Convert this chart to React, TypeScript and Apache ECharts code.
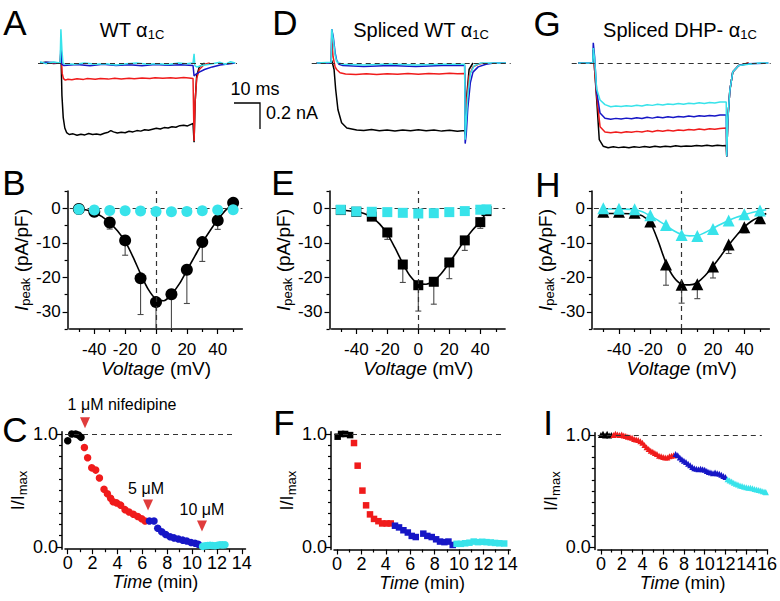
import React, { useEffect, useRef } from 'react';
import * as echarts from 'echarts';

const FONT = '"Liberation Sans", Arial, Helvetica, sans-serif';
const BLACK = '#000000';
const RED = '#f01b1b';
const BLUE = '#1616c6';
const CYAN = '#38e3ea';
const MARK_RED = '#e03c3c';
const DASH = '#333333';
const ERR = '#4a4a4a';

// ---------- Top row: current traces [time (ms), current (nA)] ----------
const traceA_black = [[0.8,0],[3,0.005],[6,-0.004],[8.6,0],[8.8,0.1],[9.2,-0.25],[9.7,-0.42],[10.3,-0.5],[11,-0.535],[12,-0.55],[13.5,-0.545],[15,-0.556],[16.5,-0.548],[18,-0.553],[19.5,-0.542],[21,-0.55],[22.5,-0.546],[24,-0.552],[25.5,-0.54],[27,-0.532],[28,-0.52],[29,-0.53],[30.5,-0.538],[32,-0.532],[33.5,-0.536],[35,-0.525],[36.5,-0.53],[38,-0.52],[39.5,-0.524],[41,-0.513],[42.5,-0.518],[44,-0.51],[45.5,-0.502],[47,-0.508],[48.5,-0.497],[50,-0.5],[51.5,-0.49],[53,-0.494],[54.5,-0.482],[56,-0.478],[57.5,-0.484],[59,-0.47],[59.6,-0.466],[60,-0.61],[60.4,-0.3],[61,-0.1],[62,-0.03],[64,0]];
const traceA_red = [[0.8,0],[8.6,0],[8.8,0.1],[9.3,-0.08],[9.8,-0.12],[10.5,-0.132],[11.5,-0.125],[13,-0.129],[15,-0.121],[17.5,-0.126],[19,-0.12],[22,-0.125],[24,-0.119],[27,-0.124],[29.5,-0.118],[32,-0.123],[35,-0.117],[37,-0.121],[40,-0.116],[43,-0.12],[45,-0.114],[48,-0.118],[51,-0.114],[53,-0.117],[56,-0.112],[58,-0.116],[59.6,-0.12],[60,-0.6],[60.4,-0.3],[61,-0.12],[62,-0.05],[64,-0.01],[66,0]];
const traceA_blue = [[0.8,0],[4,0.005],[8.6,0],[8.8,0.15],[9.2,-0.01],[10,-0.02],[15,-0.012],[20,-0.022],[25,-0.01],[30,-0.02],[35,-0.014],[40,-0.022],[45,-0.012],[50,-0.018],[55,-0.014],[59.6,-0.02],[60,-0.1],[60.5,-0.09],[62,-0.07],[64,-0.05],[67,-0.03],[70,-0.015],[73,-0.008],[75.8,0]];
const traceA_cyan = [[0.8,0.01],[3,-0.005],[6,0.008],[8.5,0],[8.8,0.26],[9.2,0.1],[9.6,0],[10,-0.005],[14,-0.01],[18,0],[22,-0.01],[26,-0.005],[30,-0.015],[34,-0.005],[38,0],[42,-0.01],[46,-0.005],[50,-0.012],[54,0],[57,-0.005],[59.6,0],[60,0.07],[60.3,-0.02],[61,-0.03],[63,-0.02],[66,-0.01],[70,0.005],[72,-0.01],[74,0.01],[75.8,0]];

const traceD_black = [[1.9,0],[7.5,0],[7.7,0.02],[8.6,-0.05],[9.2,-0.2],[10.1,-0.36],[11.5,-0.46],[13.5,-0.5],[17.3,-0.515],[20,-0.52],[23,-0.512],[26,-0.522],[29,-0.515],[32,-0.523],[35,-0.516],[38,-0.521],[41,-0.514],[44,-0.522],[47,-0.516],[50,-0.524],[53,-0.518],[56,-0.525],[58.8,-0.52],[59,-0.55],[59.4,-0.3],[60.5,-0.05],[62,0]];
const traceD_red = [[1.9,0],[7.5,0],[7.7,0.2],[8.2,0.05],[9,-0.03],[9.6,-0.05],[10.9,-0.075],[13,-0.085],[17,-0.088],[21,-0.083],[25,-0.088],[29,-0.082],[33,-0.087],[37,-0.081],[41,-0.086],[45,-0.08],[49,-0.085],[53,-0.079],[56,-0.083],[58.8,-0.08],[59,-0.45],[59.5,-0.3],[60.5,-0.1],[62,-0.03],[64,-0.01],[66,0]];
const traceD_blue = [[1.9,0],[7.5,0],[7.7,0.26],[8.3,0.2],[9,0.08],[9.6,0.02],[10.5,-0.01],[12,-0.02],[20,-0.026],[30,-0.02],[40,-0.026],[50,-0.02],[58.8,-0.02],[59,-0.62],[59.4,-0.55],[60,-0.35],[61,-0.15],[62,-0.07],[64,-0.03],[67,-0.01],[70,0],[74.7,0]];
const traceD_cyan = [[1.9,0],[7.5,0.005],[7.7,0.26],[8.3,0.18],[9,0.06],[9.6,0.01],[10.5,0],[12,-0.01],[20,-0.015],[30,-0.008],[40,-0.015],[50,-0.01],[58.8,-0.01],[59,-0.59],[59.4,-0.45],[60,-0.25],[61,-0.08],[62.5,-0.02],[65,0],[74.7,0]];

const traceG_black = [[2.5,0],[8.1,0],[8.3,0.1],[8.8,-0.05],[9.6,-0.28],[10.6,-0.59],[12.1,-0.64],[14,-0.652],[16,-0.645],[18,-0.651],[20,-0.646],[22,-0.652],[24,-0.644],[26,-0.649],[28,-0.642],[30,-0.648],[32,-0.64],[34,-0.646],[36,-0.641],[38,-0.644],[40,-0.637],[42,-0.643],[44,-0.638],[46,-0.641],[48,-0.634],[50,-0.639],[52,-0.633],[54,-0.638],[56,-0.632],[58,-0.636],[59.4,-0.634],[59.6,-0.72],[60,-0.44],[60.8,-0.21],[61.9,-0.07],[64.2,-0.02],[68,0]];
const traceG_red = [[2.5,0],[8.1,0],[8.3,0.1],[8.8,-0.05],[9.6,-0.25],[10.9,-0.49],[12.8,-0.53],[15,-0.537],[17,-0.531],[19,-0.536],[21,-0.528],[23,-0.533],[25,-0.526],[27,-0.531],[29,-0.522],[31,-0.528],[33,-0.52],[35,-0.525],[37,-0.518],[39,-0.523],[41,-0.515],[43,-0.52],[45,-0.512],[47,-0.516],[49,-0.508],[51,-0.513],[53,-0.505],[55,-0.51],[57,-0.503],[59.4,-0.5],[59.6,-0.72],[60,-0.44],[60.8,-0.21],[61.9,-0.07],[64.2,-0.02],[68,0]];
const traceG_blue = [[2.5,0],[8.1,0],[8.3,0.156],[8.8,0.05],[9.6,-0.22],[10.9,-0.385],[12.8,-0.425],[15,-0.432],[17,-0.426],[19,-0.431],[21,-0.424],[23,-0.429],[25,-0.421],[27,-0.427],[29,-0.418],[31,-0.424],[33,-0.416],[35,-0.421],[37,-0.414],[39,-0.419],[41,-0.411],[43,-0.416],[45,-0.408],[47,-0.413],[49,-0.405],[51,-0.41],[53,-0.403],[55,-0.407],[57,-0.4],[59.4,-0.4],[59.6,-0.72],[60,-0.44],[60.8,-0.21],[61.9,-0.07],[64.2,-0.02],[68,-0.005],[75.6,0]];
const traceG_cyan = [[2.5,0],[8.1,0],[8.3,0.115],[8.8,0.03],[9.6,-0.2],[10.9,-0.285],[12.8,-0.32],[15,-0.336],[17,-0.33],[19,-0.335],[21,-0.328],[23,-0.332],[25,-0.325],[27,-0.33],[29,-0.321],[31,-0.326],[33,-0.318],[35,-0.323],[37,-0.315],[39,-0.32],[41,-0.312],[43,-0.317],[45,-0.309],[47,-0.314],[49,-0.306],[51,-0.311],[53,-0.303],[55,-0.307],[57,-0.3],[59.4,-0.3],[59.6,-0.72],[60,-0.44],[60.8,-0.21],[61.9,-0.07],[64.2,-0.02],[68,-0.01],[72,0],[75.6,0]];

// ---------- Middle row: I-V relations ----------
const voltages = [-50, -40, -30, -20, -10, 0, 10, 20, 30, 40, 50];
const voltagesE = [-50, -40, -30, -20, -10, 0, 10, 20, 30, 40, 44];

const ivB_black = [-0.2, -1, -4.1, -9.3, -20.3, -27.2, -24.9, -17.8, -9.8, -3.5, 1.6];
const ivB_blackErr = [null, null, -6, -13.6, -30.8, -36, -35, -27.6, -15.4, -6.1, null];
const ivB_cyan = [-0.3, -0.5, -0.6, -0.7, -0.8, -0.9, -1.0, -0.9, -0.7, -0.5, -0.4];
const fitB = [[-50,-0.2],[-45,-0.5],[-40,-1.2],[-35,-2.4],[-30,-4.2],[-25,-6.5],[-20,-9.6],[-15,-14],[-10,-19],[-5,-23.5],[0,-26.3],[5,-26.8],[10,-25],[15,-22],[20,-18],[25,-14],[30,-10],[35,-6.5],[40,-3.3],[45,-0.6],[48,0.6]];

const ivE_black = [-0.5, -1, -2.4, -7, -16.3, -22.3, -21.3, -15.7, -9.3, -4, -0.8];
const ivE_blackErr = [null, null, -3.2, -9, -21.5, -29.8, -27.8, -20.4, -12.2, -5.8, null];
const ivE_cyan = [-0.4, -0.9, -1.0, -1.1, -1.3, -1.5, -1.4, -1.1, -0.8, -0.4, -0.3];
const fitE = [[-50,-0.5],[-40,-1.0],[-35,-1.5],[-30,-2.6],[-25,-4.5],[-20,-7.4],[-15,-11.5],[-10,-16],[-5,-19.8],[0,-21.8],[5,-22],[10,-21],[15,-18.8],[20,-15.8],[25,-12.5],[30,-9.2],[35,-6.3],[40,-3.8],[44,-1.2],[46,0]];

const ivH_black = [-1, -1, -1.3, -3.8, -16.3, -22.2, -22, -16.9, -10.5, -5.5, -2.9];
const ivH_blackErr = [null, -1.6, -1.9, -4.6, -22.3, -27.5, -26.2, -20.2, -13.1, -7.1, -3.6];
const ivH_cyan = [0, -0.1, -0.3, -2, -4.8, -7.7, -8, -6, -3.5, -1.7, -0.6];
const fitH_black = [[-50,-1.5],[-40,-1.5],[-30,-1.6],[-25,-2.2],[-20,-4.2],[-15,-9.5],[-10,-15.8],[-5,-20],[0,-22],[5,-22.2],[10,-21.5],[15,-19.5],[20,-16.8],[25,-13.8],[30,-10.7],[35,-7.9],[40,-5.4],[45,-3.6],[50,-2.4],[54,-1.5]];
const fitH_cyan = [[-50,-0.1],[-40,-0.2],[-30,-0.4],[-25,-1],[-20,-2.2],[-15,-3.5],[-10,-5],[-5,-6.5],[0,-7.6],[5,-8],[10,-7.9],[15,-7],[20,-5.8],[25,-4.6],[30,-3.5],[35,-2.6],[40,-1.9],[45,-1.2],[50,-0.7],[54,-0.4]];

// ---------- Bottom row: time courses [time (min), I/Imax] ----------
const tcC_black = [[0,0.94],[0.32,1.0],[0.64,1.0],[0.86,0.99],[1.07,0.97]];
const tcC_red = [[1.34,0.88],[1.6,0.79],[1.93,0.70],[2.25,0.68],[2.55,0.61],[2.92,0.51],[3.19,0.47],[3.45,0.43],[3.65,0.40],[3.94,0.39],[4.26,0.37],[4.61,0.33],[4.93,0.31],[5.28,0.29],[5.63,0.27],[5.95,0.25],[6.22,0.23]];
const tcC_blue = [[6.57,0.23],[6.94,0.23],[7.24,0.165],[7.56,0.135],[7.88,0.11],[8.23,0.09],[8.55,0.08],[8.9,0.07],[9.25,0.06],[9.57,0.053],[9.92,0.04],[10.24,0.033],[10.5,0.024]];
const tcC_cyan = [[10.85,0.005],[11.05,0.01],[11.25,0.012],[11.45,0.015],[11.65,0.012],[11.85,0.01],[12.05,0.015],[12.25,0.02],[12.45,0.018],[12.65,0.02]];

const tcF_black = [[0.05,0.976],[0.33,1.0],[0.66,1.0],[1.07,0.99]];
const tcF_red = [[1.39,0.92],[1.69,0.72],[2.08,0.50],[2.38,0.37],[2.7,0.29],[3.03,0.25],[3.39,0.23],[3.7,0.21],[4.07,0.21],[4.4,0.21]];
const tcF_blue = [[4.75,0.19],[5.08,0.175],[5.44,0.15],[5.8,0.13],[6.12,0.10],[6.45,0.09],[7.07,0.12],[7.4,0.10],[7.76,0.09],[8.12,0.07],[8.44,0.05],[8.8,0.045],[9.13,0.05],[9.48,0.02]];
const tcF_cyan = [[9.8,0.03],[10.15,0.03],[10.5,0.035],[10.85,0.04],[11.2,0.05],[11.55,0.045],[11.9,0.048],[12.25,0.045],[12.6,0.042],[12.95,0.038],[13.3,0.035],[13.7,0.033]];

const tcI_black = [[0,1.0],[0.2,1.01],[0.4,0.995],[0.6,1.01],[0.8,0.995],[1.0,1.0]];
const tcI_red = [[1.2,1.0],[1.4,1.01],[1.6,1.005],[1.8,1.0],[2.0,1.005],[2.2,0.995],[2.4,0.99],[2.6,0.985],[2.8,0.98],[3.0,0.975],[3.2,0.965],[3.4,0.96],[3.6,0.955],[3.8,0.945],[4.0,0.93],[4.2,0.91],[4.4,0.89],[4.6,0.875],[4.8,0.86],[5.0,0.85],[5.2,0.84],[5.4,0.83],[5.6,0.815],[5.8,0.81],[6.0,0.805],[6.2,0.8],[6.4,0.8],[6.6,0.81],[6.8,0.815],[7.0,0.82]];
const tcI_blue = [[7.2,0.83],[7.4,0.82],[7.6,0.8],[7.8,0.785],[8.0,0.77],[8.2,0.76],[8.4,0.745],[8.6,0.73],[8.8,0.715],[9.0,0.705],[9.2,0.7],[9.4,0.695],[9.6,0.7],[9.8,0.695],[10.0,0.69],[10.2,0.68],[10.4,0.67],[10.6,0.665],[10.8,0.66],[11.0,0.665],[11.2,0.66],[11.4,0.655],[11.6,0.645],[11.8,0.635],[12.0,0.625]];
const tcI_cyan = [[12.2,0.605],[12.4,0.595],[12.6,0.585],[12.8,0.575],[13.0,0.565],[13.2,0.56],[13.4,0.55],[13.6,0.545],[13.8,0.54],[14.0,0.535],[14.2,0.53],[14.4,0.53],[14.6,0.525],[14.8,0.52],[15.0,0.515],[15.2,0.51],[15.4,0.505],[15.6,0.5],[15.8,0.495],[15.9,0.49]];

// drug application markers in panel C
const drugTimes = [1.39, 6.46, 10.8];
const drugLevels = [1.1, 0.372, 0.186];
const drugTexts = ['1 \u03bcM nifedipine', '5 \u03bcM', '10 \u03bcM'];

// tick values
const ivLabelsX = [-40, -20, 0, 20, 40];
const ivMinorX = [-50, -30, -10, 10, 30, 50];
const ivLabelsY = [0, -10, -20, -30];
const ivMinorY = [5, -5, -15, -25, -35];
const timeLabels14 = [0, 2, 4, 6, 8, 10, 12, 14];
const timeMinor14 = [1, 3, 5, 7, 9, 11, 13];
const timeLabels16 = [0, 2, 4, 6, 8, 10, 12, 14, 16];
const timeMinor16 = [1, 3, 5, 7, 9, 11, 13, 15];
const normLabels = [0, 1];
const normMinor = [0.1, 0.2, 0.3, 0.4, 0.5, 0.6, 0.7, 0.8, 0.9];

const grids = [
  { left: 38, top: 24, width: 199, height: 136.5 },
  { left: 311.7, top: 24, width: 199, height: 136.5 },
  { left: 571.7, top: 24, width: 199, height: 136.5 },
  { left: 69.6, top: 191.1, width: 172.8, height: 137.9 },
  { left: 331.5, top: 191.1, width: 173.6, height: 137.9 },
  { left: 593.9, top: 191.1, width: 175.5, height: 137.9 },
  { left: 65, top: 431.7, width: 180.5, height: 117.5 },
  { left: 334, top: 431.7, width: 176.3, height: 117.8 },
  { left: 597.8, top: 432.75, width: 174.5, height: 116.8 },
];

const lineSt = { color: BLACK, width: 1.5 };
const tickSt = { color: BLACK, width: 1.2 };

function xMain(gi: number, min: number, max: number, labels: number[], fontSize: number, margin: number, name: string, nameGap: number, nameSize: number) {
  return {
    type: 'value', gridIndex: gi, min, max, position: 'bottom',
    axisLine: { show: true, onZero: false, lineStyle: lineSt },
    axisTick: { show: true, customValues: labels, length: 5, lineStyle: tickSt },
    axisLabel: { show: true, customValues: labels, color: BLACK, fontSize, fontFamily: FONT, margin },
    splitLine: { show: false },
    name, nameLocation: 'middle', nameGap,
    nameTextStyle: { color: BLACK, fontSize: nameSize, fontFamily: FONT, rich: { i: { fontStyle: 'italic', fontSize: nameSize, fontFamily: FONT, color: BLACK } } },
  };
}
function xMinor(gi: number, min: number, max: number, ticks: number[]) {
  return {
    type: 'value', gridIndex: gi, min, max, position: 'bottom',
    axisLine: { show: false, onZero: false },
    axisTick: { show: true, customValues: ticks, length: 3, lineStyle: tickSt },
    axisLabel: { show: false }, splitLine: { show: false },
  };
}
function yMain(gi: number, min: number, max: number, labels: number[], fontSize: number, margin: number, offset: number, fmt: any, name: string, nameGap: number, nameSize: number) {
  return {
    type: 'value', gridIndex: gi, min, max, position: 'left', offset,
    axisLine: { show: true, onZero: false, lineStyle: lineSt },
    axisTick: { show: true, customValues: labels, length: 5, lineStyle: tickSt },
    axisLabel: { show: true, customValues: labels, color: BLACK, fontSize, fontFamily: FONT, margin, formatter: fmt },
    splitLine: { show: false },
    name, nameLocation: 'middle', nameGap, nameRotate: 90,
    nameTextStyle: {
      color: BLACK, fontSize: nameSize, fontFamily: FONT, lineHeight: 22,
      rich: {
        i: { fontStyle: 'italic', fontSize: nameSize, fontFamily: FONT, color: BLACK, lineHeight: 22 },
        s: { fontSize: 13, fontFamily: FONT, color: BLACK, lineHeight: 10, verticalAlign: 'bottom' },
      },
    },
  };
}
function yMinor(gi: number, min: number, max: number, ticks: number[], offset: number) {
  return {
    type: 'value', gridIndex: gi, min, max, position: 'left', offset,
    axisLine: { show: false, onZero: false },
    axisTick: { show: true, customValues: ticks, length: 3, lineStyle: tickSt },
    axisLabel: { show: false }, splitLine: { show: false },
  };
}
function hidden(gi: number, min: number, max: number) {
  return { type: 'value', gridIndex: gi, min, max, show: false, splitLine: { show: false } };
}

function dashed(data: any[]) {
  return {
    silent: true, symbol: ['none', 'none'], label: { show: false },
    lineStyle: { type: [5, 4], color: DASH, width: 1.2 },
    data,
  };
}

function trace(gi: number, data: number[][], color: string, z: number, base?: boolean) {
  return {
    type: 'line', xAxisIndex: gi, yAxisIndex: gi, data, symbol: 'none', showSymbol: false,
    lineStyle: { color, width: 1.5 }, z, silent: true, clip: true,
    markLine: base ? dashed([{ yAxis: 0 }]) : undefined,
  };
}

function fitLine(gi: number, data: number[][], color: string, z: number, marks?: any[]) {
  return {
    type: 'line', xAxisIndex: gi, yAxisIndex: gi, data, symbol: 'none', showSymbol: false,
    smooth: 0.3, lineStyle: { color, width: 1.6 }, z, silent: true, clip: true,
    markLine: marks ? dashed(marks) : undefined,
  };
}

function points(gi: number, xs: number[], ys: number[], symbol: string, size: number, color: string, z: number) {
  return {
    type: 'scatter', xAxisIndex: gi, yAxisIndex: gi, data: xs.map((x, i) => [x, ys[i]]),
    symbol, symbolSize: size, itemStyle: { color, opacity: 1 }, z, silent: true,
  };
}

function errBars(gi: number, xs: number[], means: number[], ends: (number | null)[]) {
  const data: number[][] = [];
  xs.forEach((x, i) => { if (ends[i] != null) data.push([x, means[i], ends[i] as number]); });
  return {
    type: 'custom', xAxisIndex: gi, yAxisIndex: gi, data, clip: true, z: 2, silent: true,
    encode: { x: 0, y: 1 },
    renderItem: (params: any, api: any) => {
      const p1 = api.coord([api.value(0), api.value(1)]);
      const p2 = api.coord([api.value(0), api.value(2)]);
      return {
        type: 'group',
        children: [
          { type: 'line', shape: { x1: p1[0], y1: p1[1], x2: p2[0], y2: p2[1] }, style: { stroke: ERR, lineWidth: 1.1 } },
          { type: 'line', shape: { x1: p2[0] - 3, y1: p2[1], x2: p2[0] + 3, y2: p2[1] }, style: { stroke: ERR, lineWidth: 1.1 } },
        ],
      };
    },
  };
}

function tcPoints(gi: number, data: number[][], symbol: string, size: number, color: string, z: number, marks?: any[]) {
  return {
    type: 'scatter', xAxisIndex: gi, yAxisIndex: gi, data, symbol, symbolSize: size,
    itemStyle: { color, opacity: 1 }, z, silent: true,
    markLine: marks ? dashed(marks) : undefined,
  };
}

function buildOption() {
  const fmt1 = (v: number) => v.toFixed(1);
  const ivName = '{i|I}{s|peak} (pA/pF)';
  const tName = '{i|Time} (min)';
  const nName = 'I/I{s|max}';
  const vName = '{i|Voltage} (mV)';

  const xAxis: any[] = [
    hidden(0, 0, 76.5), hidden(1, 0, 76.5), hidden(2, 0, 76.5),
    xMain(3, -56, 56, ivLabelsX, 17, 12, vName, 30, 19),
    xMain(4, -56, 56, ivLabelsX, 17, 12, vName, 30, 19),
    xMain(5, -56, 56, ivLabelsX, 17, 12, vName, 30, 19),
    xMain(6, -0.22, 14.3, timeLabels14, 18, 5, tName, 24, 18),
    xMain(7, -0.25, 14.2, timeLabels14, 18, 5, tName, 24, 18),
    xMain(8, -0.3, 16.05, timeLabels16, 18, 5, tName, 24, 18),
    xMinor(3, -56, 56, ivMinorX), xMinor(4, -56, 56, ivMinorX), xMinor(5, -56, 56, ivMinorX),
    xMinor(6, -0.22, 14.3, timeMinor14), xMinor(7, -0.25, 14.2, timeMinor14), xMinor(8, -0.3, 16.05, timeMinor16),
  ];
  const yAxis: any[] = [
    hidden(0, -0.75, 0.3), hidden(1, -0.75, 0.3), hidden(2, -0.75, 0.3),
    yMain(3, -35, 5, ivLabelsY, 17, 7, 2, null, ivName, 22, 19),
    yMain(4, -35, 5, ivLabelsY, 17, 7, 2, null, ivName, 22, 19),
    yMain(5, -35, 5, ivLabelsY, 17, 7, 2, null, ivName, 22, 19),
    yMain(6, -0.02, 1.02, normLabels, 18, 4, 3, fmt1, nName, 14, 18),
    yMain(7, -0.02, 1.02, normLabels, 18, 4, 3, fmt1, nName, 18, 18),
    yMain(8, -0.02, 1.02, normLabels, 18, 4, 3, fmt1, nName, 20, 18),
    yMinor(3, -35, 5, ivMinorY, 2), yMinor(4, -35, 5, ivMinorY, 2), yMinor(5, -35, 5, ivMinorY, 2),
    yMinor(6, -0.02, 1.02, normMinor, 3), yMinor(7, -0.02, 1.02, normMinor, 3), yMinor(8, -0.02, 1.02, normMinor, 3),
  ];

  const series: any[] = [
    trace(0, traceA_black, BLACK, 1, true), trace(0, traceA_red, RED, 2), trace(0, traceA_blue, BLUE, 3), trace(0, traceA_cyan, CYAN, 4),
    trace(1, traceD_black, BLACK, 1, true), trace(1, traceD_red, RED, 2), trace(1, traceD_blue, BLUE, 3), trace(1, traceD_cyan, CYAN, 4),
    trace(2, traceG_black, BLACK, 1, true), trace(2, traceG_red, RED, 2), trace(2, traceG_blue, BLUE, 3), trace(2, traceG_cyan, CYAN, 4),

    fitLine(3, fitB, BLACK, 2, [{ yAxis: 0 }, { xAxis: 0 }]),
    errBars(3, voltages, ivB_black, ivB_blackErr),
    points(3, voltages, ivB_black, 'circle', 12, BLACK, 4),
    points(3, voltages, ivB_cyan, 'circle', 11, CYAN, 5),

    fitLine(4, fitE, BLACK, 2, [{ yAxis: 0 }, { xAxis: 0 }]),
    errBars(4, voltagesE, ivE_black, ivE_blackErr),
    points(4, voltagesE, ivE_black, 'rect', 10, BLACK, 4),
    points(4, voltagesE, ivE_cyan, 'rect', 10, CYAN, 5),

    fitLine(5, fitH_black, BLACK, 2, [{ yAxis: 0 }, { xAxis: 0 }]),
    errBars(5, voltages, ivH_black, ivH_blackErr),
    points(5, voltages, ivH_black, 'triangle', 12, BLACK, 4),
    fitLine(5, fitH_cyan, CYAN, 3),
    points(5, voltages, ivH_cyan, 'triangle', 12, CYAN, 5),

    tcPoints(6, tcC_black, 'circle', 7.5, BLACK, 3, [[{ coord: [-0.22, 1] }, { coord: [13.5, 1] }]]),
    tcPoints(6, tcC_red, 'circle', 7.5, RED, 3),
    tcPoints(6, tcC_blue, 'circle', 7.5, BLUE, 3),
    tcPoints(6, tcC_cyan, 'circle', 7.5, CYAN, 3),
    {
      type: 'scatter', xAxisIndex: 6, yAxisIndex: 6, clip: false, silent: true, z: 5,
      symbol: 'triangle', symbolRotate: 180, symbolSize: [10, 11],
      itemStyle: { color: MARK_RED, opacity: 1 },
      data: drugTimes.map((t, i) => ({
        value: [t, drugLevels[i]],
        label: {
          show: true, position: 'top', formatter: drugTexts[i],
          offset: [i === 0 ? 37 : i === 1 ? -2 : 0, 0], distance: i === 0 ? 5 : 3,
          color: BLACK, fontSize: 16, fontFamily: FONT, opacity: 1,
        },
      })),
    },

    tcPoints(7, tcF_black, 'rect', 6.5, BLACK, 3, [[{ coord: [-0.25, 1] }, { coord: [13.6, 1] }]]),
    tcPoints(7, tcF_red, 'rect', 6.5, RED, 3),
    tcPoints(7, tcF_blue, 'rect', 6.5, BLUE, 3),
    tcPoints(7, tcF_cyan, 'rect', 6.5, CYAN, 3),

    tcPoints(8, tcI_black, 'triangle', 6, BLACK, 3, [[{ coord: [-0.3, 1] }, { coord: [15.5, 1] }]]),
    tcPoints(8, tcI_red, 'triangle', 6, RED, 3),
    tcPoints(8, tcI_blue, 'triangle', 6, BLUE, 3),
    tcPoints(8, tcI_cyan, 'triangle', 6, CYAN, 3),
  ];

  const letter = (t: string, x: number, y: number) => ({
    type: 'text', x, y, silent: true,
    style: { text: t, fontSize: 35, fontFamily: FONT, fill: BLACK, align: 'center', verticalAlign: 'middle' },
  });
  const titleRich = {
    s: { fontSize: 13, fontFamily: FONT, fill: BLACK, lineHeight: 10, verticalAlign: 'bottom' },
  };
  const title = (t: string, x: number, y: number) => ({
    type: 'text', x, y, silent: true,
    style: { text: t, fontSize: 20, fontFamily: FONT, fill: BLACK, align: 'center', verticalAlign: 'middle', lineHeight: 22, rich: titleRich },
  });

  const graphic: any[] = [
    letter('A', 15, 22), letter('D', 285, 22), letter('G', 547, 23),
    letter('B', 14, 182), letter('E', 283, 182), letter('H', 548, 184),
    letter('C', 15, 429), letter('F', 284, 422), letter('I', 548, 422),
    title('WT \u03b1{s|1C}', 132, 30),
    title('Spliced WT \u03b1{s|1C}', 421, 30),
    title('Spliced DHP- \u03b1{s|1C}', 680, 30),
    { type: 'polyline', silent: true, shape: { points: [[234, 103], [260, 103], [260, 129]] }, style: { stroke: BLACK, lineWidth: 1.3, fill: 'none' } },
    { type: 'text', x: 255, y: 89, silent: true, style: { text: '10 ms', fontSize: 18, fontFamily: FONT, fill: BLACK, align: 'center', verticalAlign: 'middle' } },
    { type: 'text', x: 266, y: 113, silent: true, style: { text: '0.2 nA', fontSize: 18, fontFamily: FONT, fill: BLACK, align: 'left', verticalAlign: 'middle' } },
  ];

  return {
    animation: false,
    backgroundColor: '#ffffff',
    textStyle: { fontFamily: FONT },
    grid: grids,
    xAxis, yAxis, series, graphic,
  };
}

export default function App() {
  const ref = useRef<HTMLDivElement>(null);
  useEffect(() => {
    if (!ref.current) return;
    const chart = echarts.init(ref.current, null, { renderer: 'svg' });
    chart.setOption(buildOption() as any);
    return () => chart.dispose();
  }, []);
  return <div ref={ref} style={{ position: 'absolute', left: 0, top: 0, width: 780, height: 601, background: '#fff' }} />;
}
